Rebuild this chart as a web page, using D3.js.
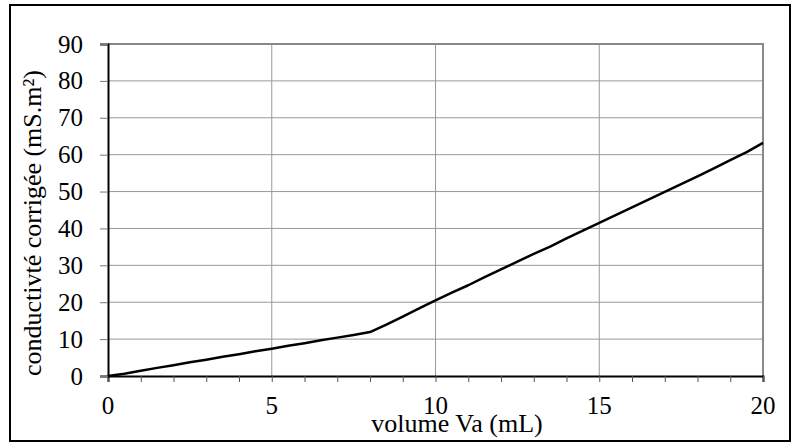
<!DOCTYPE html>
<html>
<head>
<meta charset="utf-8">
<script src="https://cdn.jsdelivr.net/npm/d3@7.9.0/dist/d3.min.js"></script>
<style>
  body { margin: 0; background: #fff; }
  text { font-family: "Liberation Serif", "Times New Roman", serif; fill: #000; }
</style>
</head>
<body>
<svg id="chart" width="800" height="448"></svg>
<script>
const volumes = [0, 0.5, 1, 1.5, 2, 2.5, 3, 3.5, 4, 4.5, 5, 5.5, 6, 6.5, 7, 7.5, 8,
  8.5, 9, 9.5, 10, 10.5, 11, 11.5, 12, 12.5, 13, 13.5, 14, 14.5, 15, 15.5, 16,
  16.5, 17, 17.5, 18, 18.5, 19, 19.5, 20];
const conductivity = [0.0, 0.6, 1.4, 2.2, 2.9, 3.7, 4.4, 5.2, 5.9, 6.7, 7.4, 8.2, 8.9,
  9.7, 10.4, 11.1, 11.9, 13.9, 16.1, 18.3, 20.5, 22.6, 24.6, 26.8, 28.9, 31.0, 33.1,
  35.1, 37.3, 39.4, 41.5, 43.6, 45.7, 47.8, 49.9, 52.0, 54.1, 56.3, 58.5, 60.7, 63.2];
const xTicks = [0, 5, 10, 15, 20];
const yTicks = [0, 10, 20, 30, 40, 50, 60, 70, 80, 90];

const svg = d3.select('#chart');
const plotLeft = 108, plotRight = 763, plotTop = 44, plotBottom = 376;

// outer frame
svg.append('rect')
  .attr('x', 10).attr('y', 5).attr('width', 780).attr('height', 436)
  .attr('fill', 'none').attr('stroke', '#000').attr('stroke-width', 2);

const x = d3.scaleLinear().domain([0, 20]).range([plotLeft, plotRight]);
const y = d3.scaleLinear().domain([0, 90]).range([plotBottom, plotTop]);

// grid
svg.append('g')
  .selectAll('line')
  .data(yTicks.slice(1, -1))
  .join('line')
  .attr('x1', plotLeft).attr('x2', plotRight)
  .attr('y1', (d) => y(d)).attr('y2', (d) => y(d))
  .attr('stroke', '#999').attr('stroke-width', 1);

svg.append('g')
  .selectAll('line')
  .data(xTicks.slice(1, -1))
  .join('line')
  .attr('y1', plotTop).attr('y2', plotBottom)
  .attr('x1', (d) => x(d)).attr('x2', (d) => x(d))
  .attr('stroke', '#999').attr('stroke-width', 1);

// top / right frame of plot area
svg.append('path')
  .attr('d', `M${plotLeft},${plotTop}H${plotRight}V${plotBottom}`)
  .attr('fill', 'none').attr('stroke', '#888').attr('stroke-width', 2);

// axes
const xAxis = svg.append('g')
  .attr('transform', `translate(0,${plotBottom})`)
  .call(d3.axisBottom(x).ticks(20).tickSize(6).tickFormat(''));
xAxis.select('.domain').attr('stroke', '#000').attr('stroke-width', 2);
xAxis.selectAll('.tick line').attr('stroke', '#555');

svg.append('g')
  .selectAll('text')
  .data(xTicks)
  .join('text')
  .attr('x', (d) => x(d)).attr('y', 414)
  .attr('text-anchor', 'middle')
  .attr('font-size', 25)
  .text((d) => d);

const yAxis = svg.append('g')
  .attr('transform', `translate(${plotLeft},0)`)
  .call(d3.axisLeft(y).tickValues(yTicks).tickSize(8).tickPadding(17));
yAxis.select('.domain').attr('stroke', '#000').attr('stroke-width', 2);
yAxis.selectAll('.tick line').attr('stroke', '#777');
yAxis.selectAll('.tick text')
  .attr('font-size', 25)
  .attr('font-family', '"Liberation Serif", serif')
  .attr('fill', '#000');

// axis titles
svg.append('text')
  .attr('x', 457).attr('y', 432)
  .attr('text-anchor', 'middle')
  .attr('font-size', 26)
  .text('volume Va (mL)');

svg.append('text')
  .attr('transform', 'translate(32,223) rotate(-90)')
  .attr('text-anchor', 'middle').attr('dominant-baseline', 'central')
  .attr('font-size', 26)
  .text('conductivté corrigée (mS.m²)');

// data line
const line = d3.line()
  .x((d, i) => x(volumes[i]))
  .y((d) => y(d));

svg.append('path')
  .datum(conductivity)
  .attr('d', line)
  .attr('fill', 'none')
  .attr('stroke', '#000')
  .attr('stroke-width', 2.5)
  .attr('stroke-linejoin', 'round');
</script>
</body>
</html>
